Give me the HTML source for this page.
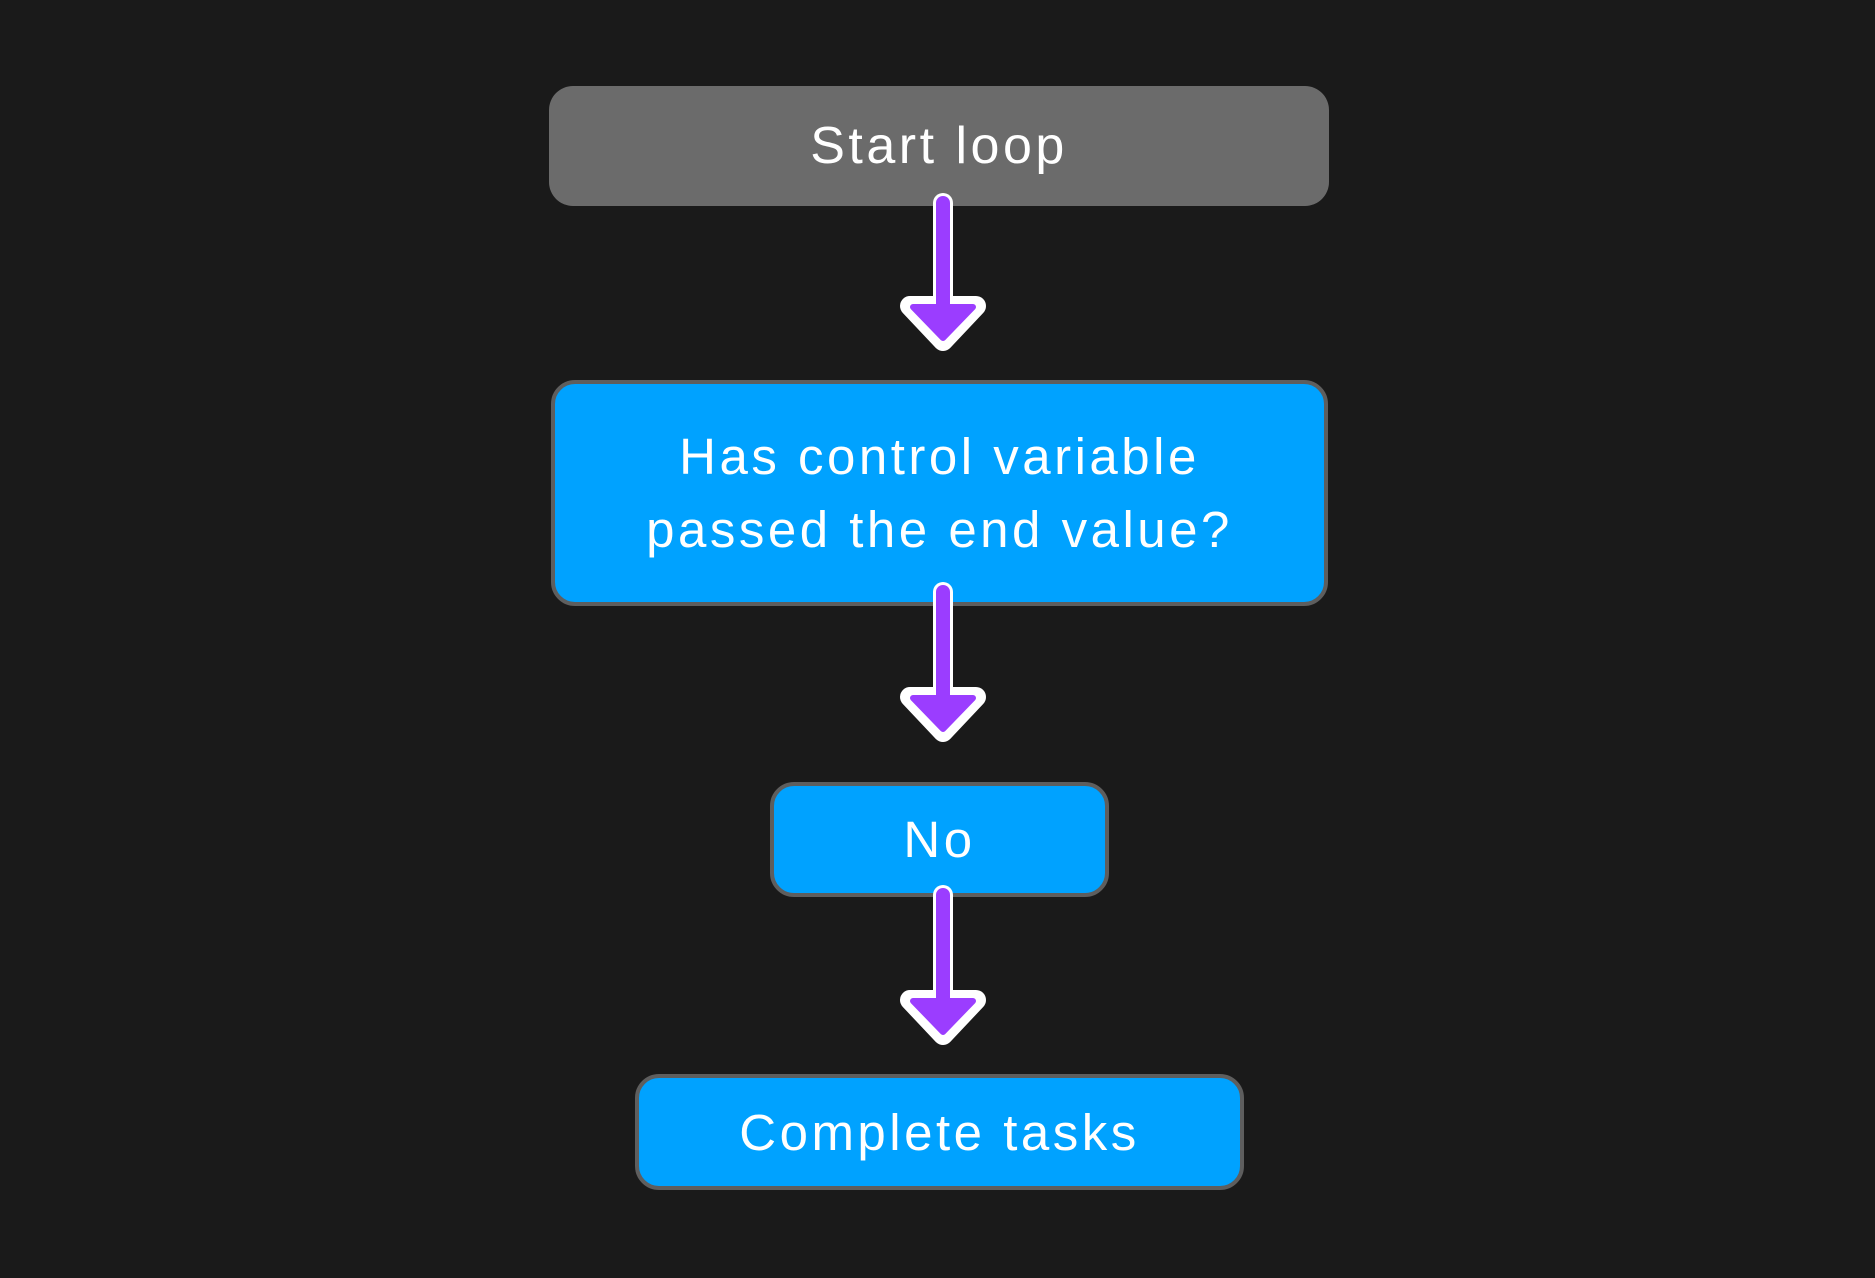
<!DOCTYPE html>
<html><head><meta charset="utf-8"><style>
body{margin:0;width:1875px;height:1278px;background:#1a1a1a;overflow:hidden;position:relative;font-family:"Liberation Sans",sans-serif}
.b{position:absolute;box-sizing:border-box;display:flex;align-items:center;justify-content:center;text-align:center;color:#fff;font-size:51px;letter-spacing:3.5px;border-radius:24px;white-space:nowrap}
.blue{background:#00a2ff;border:4px solid #5e5e5e}
svg{position:absolute;left:0;top:0}
</style></head><body>
<div class="b" style="left:549px;top:86px;width:780px;height:120px;background:#6b6b6b;font-size:52px">Start loop</div>
<div class="b blue" style="left:551px;top:380px;width:777px;height:226px;line-height:73px">Has control variable<br>passed the end value?</div>
<div class="b blue" style="left:770px;top:782px;width:339px;height:115px">No</div>
<div class="b blue" style="left:635px;top:1074px;width:609px;height:116px">Complete tasks</div>
<svg width="1875" height="1278">
<g stroke="#fff" stroke-width="20" stroke-linecap="round" stroke-linejoin="round" fill="#fff">
<line x1="943" y1="203" x2="943" y2="310"/><polygon points="910,306 976,306 943,341"/>
<line x1="943" y1="592" x2="943" y2="700"/><polygon points="910,697 976,697 943,732"/>
<line x1="943" y1="895" x2="943" y2="1003"/><polygon points="910,1000 976,1000 943,1035"/>
</g>
<g stroke="#9b3dff" stroke-width="14" stroke-linecap="round" stroke-linejoin="round" fill="#9b3dff">
<line x1="943" y1="203" x2="943" y2="310"/><polygon points="913,307 973,307 943,338" stroke-width="6"/>
<line x1="943" y1="592" x2="943" y2="700"/><polygon points="913,698 973,698 943,729" stroke-width="6"/>
<line x1="943" y1="895" x2="943" y2="1003"/><polygon points="913,1001 973,1001 943,1032" stroke-width="6"/>
</g>
</svg>
</body></html>
